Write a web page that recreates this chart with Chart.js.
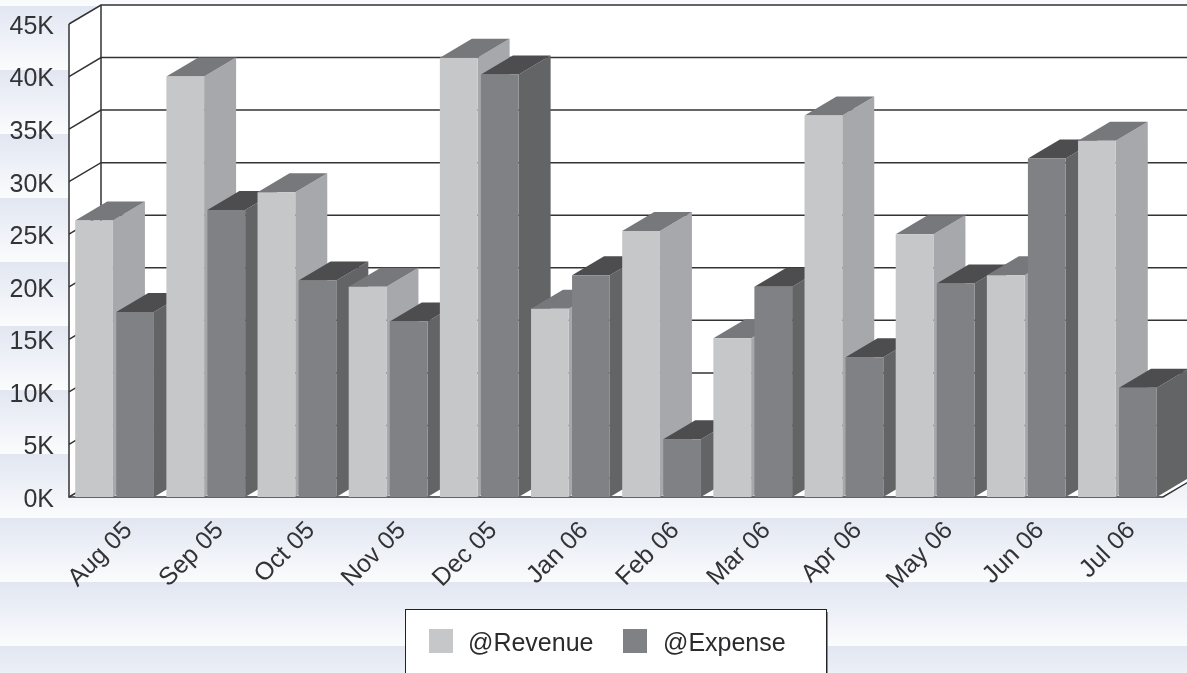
<!DOCTYPE html>
<html>
<head>
<meta charset="utf-8">
<title>Revenue and Expense</title>
<script src="https://cdn.jsdelivr.net/npm/chart.js@4"></script>
<style>
  html, body { margin: 0; padding: 0; width: 1187px; height: 673px; overflow: hidden; }
  body {
    background-color: #fbfcfd;
    background-image: repeating-linear-gradient(#e1e6f1 0px, #e9edf5 20px, #f2f4f9 42px, #fbfcfd 64px);
    background-position: 0 6px;
    background-size: 100% 64px;
  }
  canvas { display: block; }
</style>
</head>
<body>
<canvas id="chart" width="1187" height="673"></canvas>
<script>
// data
const meses = ['Aug 05', 'Sep 05', 'Oct 05', 'Nov 05', 'Dec 05', 'Jan 06', 'Feb 06', 'Mar 06', 'Apr 06', 'May 06', 'Jun 06', 'Jul 06'];
const revenue = [26300, 40000, 29000, 20000, 41800, 17900, 25300, 15100, 36300, 25000, 21100, 33900];
const expense = [17600, 27300, 20600, 16700, 40200, 21100, 5500, 20000, 13300, 20300, 32200, 10400];

// 3d look
const depthX = 32;
const depthY = -19;
const caras = [
  { front: '#c6c7c9', side: '#a7a8ab', top: '#77787b' },
  { front: '#808184', side: '#636466', top: '#4d4d4f' }
];

function poly(ctx, pts, fill, stroke) {
  ctx.beginPath();
  pts.forEach((p, i) => i ? ctx.lineTo(p[0], p[1]) : ctx.moveTo(p[0], p[1]));
  ctx.closePath();
  if (fill) { ctx.fillStyle = fill; ctx.fill(); }
  if (stroke) { ctx.strokeStyle = stroke; ctx.lineWidth = 1.5; ctx.stroke(); }
}

// back wall, left wall, floor and the grid that runs over them
const paredes = {
  id: 'paredes',
  beforeDatasetsDraw(chart) {
    const ctx = chart.ctx, y = chart.scales.y, a = chart.chartArea;
    const bx = a.left + depthX, rx = a.right + depthX;
    ctx.save();
    poly(ctx, [[a.left, a.top], [bx, a.top + depthY], [rx, a.top + depthY], [rx, a.bottom + depthY], [a.right, a.bottom], [a.left, a.bottom]], '#ffffff');
    ctx.lineWidth = 1.5;
    ctx.strokeStyle = '#333335';
    y.ticks.forEach(t => {
      const py = y.getPixelForValue(t.value);
      ctx.beginPath();
      ctx.moveTo(a.left, py);
      ctx.lineTo(bx, py + depthY);
      ctx.lineTo(rx, py + depthY);
      ctx.stroke();
    });
    ctx.beginPath();
    ctx.moveTo(a.left, a.top);
    ctx.lineTo(a.left, a.bottom);
    ctx.lineTo(a.right, a.bottom);
    ctx.lineTo(rx, a.bottom + depthY);
    ctx.moveTo(bx, a.top + depthY);
    ctx.lineTo(bx, a.bottom + depthY);
    ctx.stroke();
    ctx.restore();
  }
};

// bars have to be painted left to right, otherwise the sides overlap wrongly
const barras3d = {
  id: 'barras3d',
  beforeDatasetsDraw(chart) {
    const ctx = chart.ctx;
    ctx.save();
    meses.forEach((m, i) => {
      chart.data.datasets.forEach((ds, d) => {
        const b = chart.getDatasetMeta(d).data[i];
        const l = b.x - b.width / 2, r = b.x + b.width / 2;
        const c = caras[d];
        poly(ctx, [[r, b.y], [r + depthX, b.y + depthY], [r + depthX, b.base + depthY], [r, b.base]], c.side);
        poly(ctx, [[l, b.y], [l + depthX, b.y + depthY], [r + depthX, b.y + depthY], [r, b.y]], c.top);
        b.draw(ctx);
      });
    });
    ctx.restore();
    return false;
  }
};

const leyenda = {
  id: 'leyenda',
  afterDraw(chart) {
    const ctx = chart.ctx;
    const items = [[429, 468], [623, 663]];
    ctx.save();
    ctx.fillStyle = '#8c8d90';
    ctx.fillRect(408, 612, 420, 62);
    ctx.fillStyle = '#ffffff';
    ctx.fillRect(405.5, 609.5, 421, 66);
    ctx.strokeStyle = '#222222';
    ctx.lineWidth = 1;
    ctx.strokeRect(405.5, 609.5, 421, 66);
    ctx.font = '25px "Liberation Sans"';
    ctx.textBaseline = 'alphabetic';
    chart.data.datasets.forEach((ds, d) => {
      ctx.fillStyle = ds.backgroundColor;
      ctx.fillRect(items[d][0], 629, 24, 24);
      ctx.fillStyle = '#2b2b2d';
      ctx.fillText(ds.label, items[d][1], 651);
    });
    ctx.restore();
  }
};

new Chart(document.getElementById('chart'), {
  type: 'bar',
  data: {
    labels: meses,
    datasets: [
      { label: '@Revenue', data: revenue, backgroundColor: caras[0].front },
      { label: '@Expense', data: expense, backgroundColor: caras[1].front }
    ]
  },
  options: {
    responsive: false,
    animation: false,
    events: [],
    categoryPercentage: 0.9,
    barPercentage: 0.92,
    layout: { padding: { top: 24, right: 24, left: 0, bottom: 0 } },
    plugins: { legend: { display: false }, tooltip: { enabled: false } },
    scales: {
      x: {
        grid: { display: false },
        border: { display: false },
        afterFit: s => { s.height = 176; s.paddingLeft = 0; s.paddingRight = 0; },
        ticks: {
          autoSkip: false,
          minRotation: 45,
          maxRotation: 45,
          padding: 11,
          labelOffset: 14,
          color: '#333335',
          font: { family: 'Liberation Sans', size: 25 }
        }
      },
      y: {
        min: 0,
        max: 45000,
        grid: { display: false, drawTicks: false },
        border: { display: false },
        afterFit: s => { s.width = 69; s.paddingTop = 0; s.paddingBottom = 0; },
        ticks: {
          stepSize: 5000,
          padding: 15,
          labelOffset: 3,
          color: '#333335',
          font: { family: 'Liberation Sans', size: 25 },
          callback: v => (v / 1000) + 'K'
        }
      }
    }
  },
  plugins: [paredes, barras3d, leyenda]
});
</script>
</body>
</html>
